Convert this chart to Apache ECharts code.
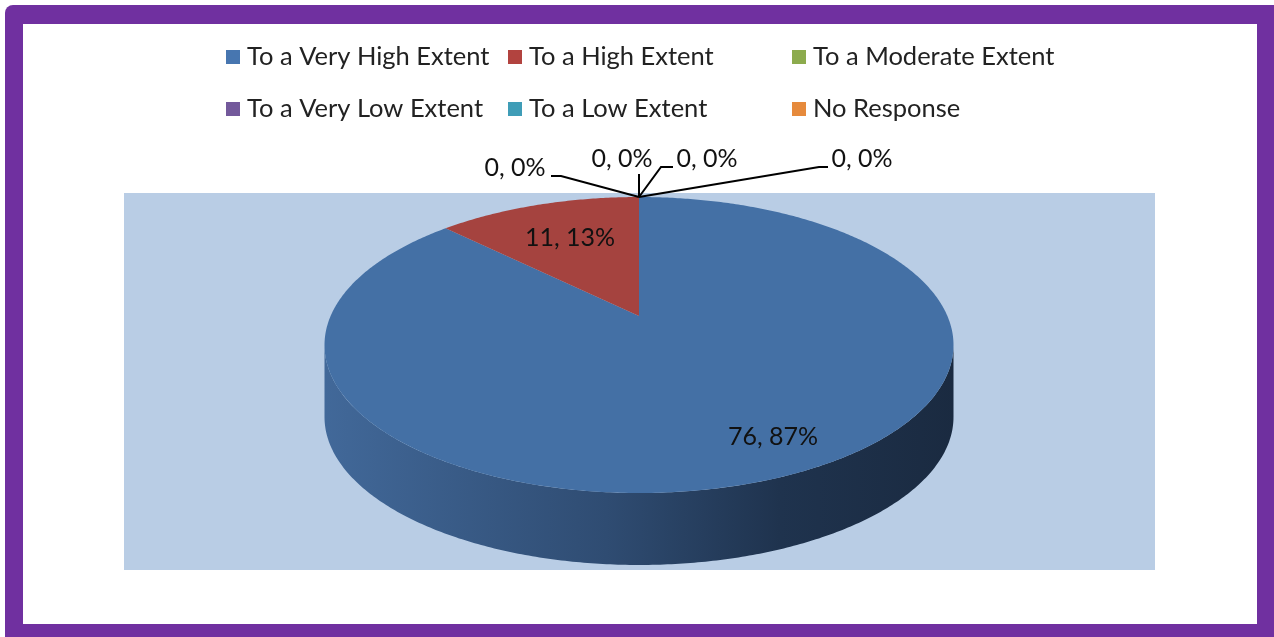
<!DOCTYPE html>
<html><head><meta charset="utf-8">
<script src="https://cdn.jsdelivr.net/npm/echarts@6/dist/echarts.min.js"></script>
<style>html,body{margin:0;padding:0;background:#fff}#c{width:1274px;height:637px}</style>
</head><body><div id="c"></div>
<script>
// ---- data ----
const categories = ['To a Very High Extent', 'To a High Extent', 'To a Moderate Extent', 'To a Very Low Extent', 'To a Low Extent', 'No Response'];
const counts = [76, 11, 0, 0, 0, 0];
const percents = [87, 13, 0, 0, 0, 0];

// ---- styles ----
const legendColors = ['#4776b0', '#b2433f', '#8cab4d', '#73599b', '#3f9db7', '#e68a3c'];
const topColors = ['#4470a5', '#a5433f', '#8cab4d', '#73599b', '#3f9db7', '#e68a3c'];
const wallStops = [
  [[0, '#42699a'], [0.45, '#2f4c72'], [0.72, '#1f334e'], [1, '#1a2a40']],
  [[0, '#8e3835'], [1, '#4a1c1b']],
  [[0, '#7a9643'], [1, '#3f4f22']],
  [[0, '#644e88'], [1, '#332747']],
  [[0, '#378aa1'], [1, '#1c4853']],
  [[0, '#ca7935'], [1, '#6a3f1b']]
];
const FONT = 'Lato, "Open Sans", sans-serif';
const FS = 25;
const LFS = 25.5;
// pie geometry (perspective-projected ellipse)
const G = { cx: 639, cy: 316, A: 308.4, B: 142.3, k: 0.196, depth: 72 };
// label placement relative to pie vertex (non-zero slices)
const innerLabelOffsets = [[134, 121], [-69, -78]];
// zero-slice labels relative to slice edge point: text centre + leader line points
const outerLabels = [
  { t: [-124, -29], line: [[-88, -21], [-78, -21], [0, 0]] },
  { t: [-17, -38], line: [[0, -23], [0, 0]] },
  { t: [68, -38], line: [[34, -30], [22, -30], [0, 0]] },
  { t: [223, -38], line: [[189, -30], [180, -30], [0, 0]] }
];
// legend layout: [markerLeft, rowCenterY]
const legendPos = [[226, 57], [508, 57], [792, 57], [226, 109], [508, 109], [792, 109]];

const total = counts.reduce((a, b) => a + b, 0);
const starts = [];
{ let acc = 0; counts.forEach(v => { starts.push(acc); acc += v; }); }

function proj(th, r, dy) {
  const u = r * Math.sin(th), v = r * Math.cos(th);
  const s = 1 + G.k * v;
  return [G.cx + G.A * u / s, G.cy - G.B * v / s + (dy || 0)];
}
const TH_A = Math.acos(-G.k), TH_B = 2 * Math.PI - Math.acos(-G.k);

function renderItem(params, api) {
  const i = params.dataIndex;
  const val = api.value(0);
  const t1 = starts[i] / total * 2 * Math.PI;
  const t2 = (starts[i] + val) / total * 2 * Math.PI;
  const children = [];
  if (val > 0) {
    // wall (front-facing part only)
    const w1 = Math.max(t1, TH_A), w2 = Math.min(t2, TH_B);
    if (w2 > w1) {
      const pts = [];
      const n = Math.max(2, Math.ceil((w2 - w1) / 0.01));
      for (let j = 0; j <= n; j++) pts.push(proj(w1 + (w2 - w1) * j / n, 1, 0));
      for (let j = n; j >= 0; j--) pts.push(proj(w1 + (w2 - w1) * j / n, 1, G.depth));
      children.push({
        type: 'polygon', z2: 1, shape: { points: pts },
        style: {
          fill: {
            type: 'linear', x: G.cx - 320, y: 0, x2: G.cx + 320, y2: 0, global: true,
            colorStops: wallStops[i].map(s => ({ offset: s[0], color: s[1] }))
          }
        }
      });
    }
    // top face
    const pts = [[G.cx, G.cy]];
    const n = Math.max(2, Math.ceil((t2 - t1) / 0.01));
    for (let j = 0; j <= n; j++) pts.push(proj(t1 + (t2 - t1) * j / n, 1, 0));
    children.push({ type: 'polygon', z2: 5, shape: { points: pts }, style: { fill: topColors[i] } });
    const off = innerLabelOffsets[i] || [0, 0];
    children.push({
      type: 'text', z2: 10, x: G.cx + off[0], y: G.cy + off[1],
      style: { text: counts[i] + ', ' + percents[i] + '%', fill: '#111', fontSize: FS, fontFamily: FONT, align: 'center', verticalAlign: 'middle' }
    });
  } else {
    const lab = outerLabels[i - (counts.length - outerLabels.length)] || outerLabels[0];
    const e = proj(t1, 1, 0);
    children.push({
      type: 'polyline', z2: 10, shape: { points: lab.line.map(p => [e[0] + p[0], e[1] + p[1]]) },
      style: { stroke: '#000', lineWidth: 2, fill: null }
    });
    children.push({
      type: 'text', z2: 10, x: e[0] + lab.t[0], y: e[1] + lab.t[1],
      style: { text: counts[i] + ', ' + percents[i] + '%', fill: '#111', fontSize: FS, fontFamily: FONT, align: 'center', verticalAlign: 'middle' }
    });
  }
  return { type: 'group', children };
}

const chart = echarts.init(document.getElementById('c'), null, { renderer: 'canvas' });
const legends = categories.map((name, i) => ({
  data: [name], left: legendPos[i][0], top: legendPos[i][1] - 15, padding: 0,
  icon: 'rect', itemWidth: 14, itemHeight: 14, selectedMode: false,
  textStyle: { fontSize: LFS, fontFamily: FONT, color: '#222', lineHeight: 30, padding: [0, 0, 0, 2] }
}));
chart.setOption({
  animation: false,
  backgroundColor: '#fff',
  graphic: [
    { type: 'rect', z: -10, shape: { x: 5, y: 5, width: 1300, height: 660, r: 8 }, style: { fill: '#7030a0' } },
    { type: 'rect', z: -9, shape: { x: 23, y: 24, width: 1234, height: 600 }, style: { fill: '#ffffff' } },
    { type: 'rect', z: -8, shape: { x: 124, y: 193, width: 1031, height: 377 }, style: { fill: '#b9cde5' } }
  ],
  legend: legends,
  series: [
    {
      type: 'pie', radius: [0, 0], center: [G.cx, G.cy], silent: true,
      label: { show: false }, labelLine: { show: false },
      data: categories.map((n, i) => ({ name: n, value: counts[i], itemStyle: { color: legendColors[i] } }))
    },
    {
      type: 'custom', coordinateSystem: 'none', renderItem: renderItem, silent: true,
      data: counts.map(v => [v])
    }
  ]
});
</script></body></html>
